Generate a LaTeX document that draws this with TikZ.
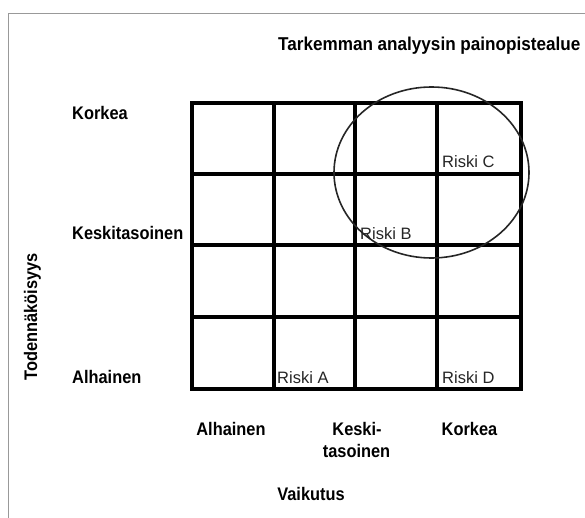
\documentclass[tikz,border=0pt]{standalone}
\usepackage{fontspec}
\setmainfont{Liberation Sans}
\newcommand\narrowtxt[2][0.9]{\scalebox{#1}[1]{#2}}
\begin{document}
\begin{tikzpicture}[x=1pt,y=-1pt,
  lbl/.style={font=\fontsize{18.2}{20}\selectfont\bfseries, inner sep=0pt},
  risk/.style={font=\fontsize{16.5}{18}\selectfont, inner sep=0pt, anchor=base west, text=black!85},
  gridline/.style={line width=3.2pt, line cap=rect},
  frameline/.style={draw=black!40, line width=1.5pt}]
\useasboundingbox (0,0) rectangle (585,518);
\fill[white] (0,0) rectangle (585,518);
% frame
\draw[frameline] (8.5,518) -- (8.5,13.5) -- (585,13.5);
% grid
\foreach \x in {192,274,355,437,521} \draw[gridline] (\x,103) -- (\x,389);
\foreach \y in {103,174,245,317,389} \draw[gridline] (192,\y) -- (521,\y);
% focus ellipse
\draw[line width=1.6pt, black!85] (431.5,172.5) ellipse [x radius=97.5, y radius=85.5];
% title
\node[lbl, anchor=base west, font=\fontsize{18.6}{20}\selectfont\bfseries] (title) at (278,51) {\narrowtxt[0.92]{Tarkemman analyysin painopistealue}};
% left labels
\node[lbl, anchor=base west] (lk) at (72,120) {\narrowtxt{Korkea}};
\node[lbl, anchor=base west] (lm) at (72,240) {\narrowtxt{Keskitasoinen}};
\node[lbl, anchor=base west] (la) at (72,383) {\narrowtxt{Alhainen}};
\node[lbl, anchor=base, rotate=90] (ylab) at (37,317) {\narrowtxt{Todennäköisyys}};
% bottom labels
\node[lbl, anchor=base] (ba) at (231,435) {\narrowtxt{Alhainen}};
\node[lbl, anchor=base] (bm1) at (357,435) {\narrowtxt{Keski-}};
\node[lbl, anchor=base] (bm2) at (356.5,457) {\narrowtxt{tasoinen}};
\node[lbl, anchor=base] (bk) at (469.5,435) {\narrowtxt{Korkea}};
\node[lbl, anchor=base] (xlab) at (311,500) {\narrowtxt{Vaikutus}};
% risks
\node[risk] (ra) at (277,383) {Riski A};
\node[risk] (rb) at (360,240) {Riski B};
\node[risk] (rc) at (442,168) {Riski C};
\node[risk] (rd) at (442,383) {Riski D};
\end{tikzpicture}
\end{document}
